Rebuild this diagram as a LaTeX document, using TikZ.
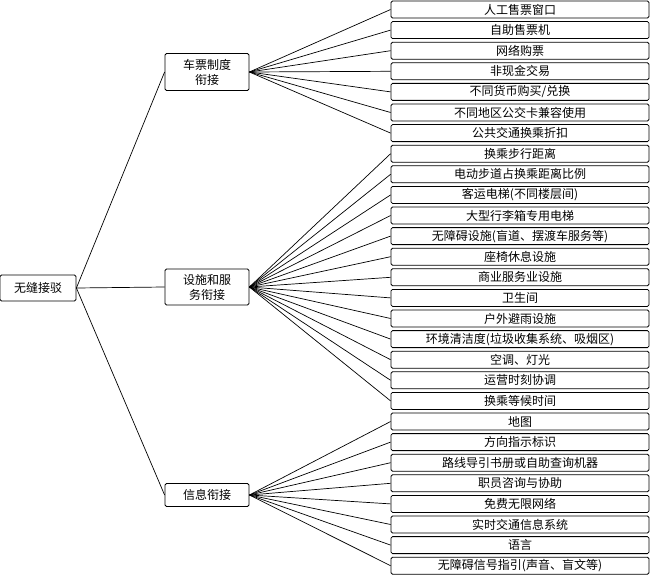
\documentclass[tikz,border=0pt]{standalone}
\usepackage{fontspec}
\setmainfont{Noto Sans CJK SC}
\begin{document}
\begin{tikzpicture}[x=1pt,y=-1pt,box/.style={draw,rounded corners=1.5pt,line width=0.8pt,inner sep=0pt,font=\fontsize{12}{15}\selectfont},link/.style={line width=0.7pt}]
\useasboundingbox(0,0)rectangle(650,575);
\pgfmathsetmacro{\lfx}{520}
\pgfmathsetmacro{\lfw}{258}
\pgfmathsetmacro{\lfh}{17}
\pgfmathsetmacro{\lfsep}{20.6}
\node[box,minimum width=76pt,minimum height=26pt](root)at(38,288){无缝接驳};
\node[box,minimum width=84pt,minimum height=37pt,align=center](ticket)at(207,72){车票制度\\衔接};
\node[box,minimum width=84pt,minimum height=36pt,align=center](facil)at(207,287){设施和服\\务衔接};
\node[box,minimum width=84pt,minimum height=23pt](info)at(207,495){信息衔接};
\foreach \i/\t in {1/人工售票窗口,2/自助售票机,3/网络购票,4/非现金交易,5/{不同货币购买/兑换},6/不同地区公交卡兼容使用,7/公共交通换乘折扣,
8/换乘步行距离,9/电动步道占换乘距离比例,10/客运电梯(不同楼层间),11/大型行李箱专用电梯,12/无障碍设施(盲道、摆渡车服务等),13/座椅休息设施,14/商业服务业设施,15/卫生间,16/户外避雨设施,17/环境清洁度(垃圾收集系统、吸烟区),18/空调、灯光,19/运营时刻协调,20/换乘等候时间,
21/地图,22/方向指示标识,23/路线导引书册或自助查询机器,24/职员咨询与协助,25/免费无限网络,26/实时交通信息系统,27/语言,28/无障碍信号指引(声音、盲文等)}{\node[box,minimum width=\lfw pt,minimum height=\lfh pt](l\i)at(\lfx,9.5+\lfsep*\i-\lfsep){\t};}
\foreach \m in {ticket,facil,info}{\draw[link](root.east)--(\m.west);}
\foreach \i in {1,...,7}{\draw[link](ticket.east)--(l\i.west);}
\foreach \i in {8,...,20}{\draw[link](facil.east)--(l\i.west);}
\foreach \i in {21,...,28}{\draw[link](info.east)--(l\i.west);}
\end{tikzpicture}
\end{document}
